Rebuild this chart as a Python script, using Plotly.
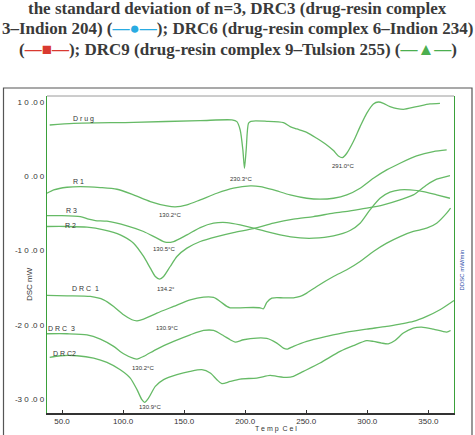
import plotly.graph_objects as go

# ---- data (temperature in °C, heat flow in mW) ----
drug_T = [39.9, 59.5, 108.6, 163.2, 189.1, 193.2, 195.9, 198.1, 199.4, 200.8, 202.7, 204.6, 217.7, 231.3, 236.8, 242.3, 250.4, 258.6, 266.8, 272.3, 276.3, 279.6, 283.2, 288.6, 294.1, 299.5, 305.0, 309.1, 313.2, 318.6, 329.5, 340.4, 351.3, 359.5]
drug_v = [6.87, 7.10, 7.23, 7.46, 7.55, 7.32, 6.20, 3.52, 1.05, 3.52, 7.10, 7.37, 7.37, 7.19, 6.65, 6.34, 5.89, 5.08, 4.19, 3.43, 2.71, 2.49, 3.07, 4.64, 6.65, 8.44, 9.70, 9.96, 9.79, 9.34, 8.98, 9.34, 9.70, 9.79]

r1_T = [37.7, 43.2, 54.1, 65.0, 81.4, 95.0, 108.6, 122.3, 135.9, 142.7, 152.3, 163.2, 176.8, 190.4, 204.1, 212.3, 223.2, 236.8, 250.4, 261.3, 272.3, 283.2, 294.1, 305.0, 315.9, 326.8, 340.4, 354.1, 365.0]
r1_v = [-2.31, -1.86, -1.50, -1.41, -1.54, -1.77, -2.53, -3.42, -4.01, -4.14, -3.87, -3.20, -2.31, -1.63, -1.32, -1.41, -1.86, -2.53, -2.98, -3.11, -2.98, -2.53, -1.63, -0.29, 0.83, 1.73, 2.71, 3.29, 3.52]

r3_T = [37.7, 48.6, 65.0, 71.8, 77.3, 86.8, 103.2, 116.8, 127.7, 134.5, 141.4, 152.3, 163.2, 174.1, 185.0, 195.9, 212.3, 228.6, 245.0, 255.9, 272.3, 285.9, 294.1, 302.2, 310.4, 318.6, 326.8, 335.0, 345.9, 356.8, 367.7]
r3_v = [-5.31, -5.31, -5.44, -5.80, -5.98, -6.07, -6.69, -7.45, -8.35, -8.89, -8.80, -7.90, -6.92, -6.34, -6.25, -6.56, -7.23, -7.90, -8.31, -8.35, -8.04, -7.32, -6.34, -4.54, -2.98, -2.17, -1.86, -1.86, -2.08, -2.53, -2.98]

r2_T = [37.7, 54.1, 70.5, 84.1, 97.7, 108.6, 116.8, 122.3, 126.4, 129.9, 133.2, 138.6, 144.1, 152.3, 163.2, 176.8, 190.4, 206.8, 223.2, 239.5, 255.9, 272.3, 285.9, 299.5, 313.2, 326.8, 337.7, 348.6, 356.8, 367.7]
r2_v = [-6.78, -6.78, -6.87, -7.23, -7.90, -9.02, -10.81, -12.38, -13.50, -13.86, -13.50, -12.16, -10.81, -9.69, -8.80, -8.13, -7.59, -7.05, -6.34, -5.80, -5.44, -4.99, -4.68, -4.32, -3.87, -3.20, -2.53, -1.19, -0.42, 0.07]

drc1_T = [37.7, 54.1, 73.2, 84.1, 92.3, 100.4, 107.3, 111.4, 116.8, 127.7, 141.4, 155.0, 165.9, 174.1, 179.5, 185.0, 187.7, 195.9, 206.8, 212.3, 215.0, 217.7, 221.8, 231.3, 239.5, 245.0, 250.4, 258.6, 272.3, 283.2, 294.1, 305.0, 315.9, 326.8, 337.7, 348.6, 356.8, 365.0, 368.2]
drc1_v = [-16.05, -16.10, -16.19, -16.64, -17.53, -18.65, -19.32, -19.46, -19.23, -18.43, -17.53, -16.64, -16.28, -16.32, -16.86, -17.53, -17.71, -17.71, -17.67, -17.71, -17.84, -16.99, -16.41, -16.37, -16.37, -16.19, -15.74, -14.84, -13.50, -12.60, -11.48, -10.14, -9.02, -8.13, -7.45, -7.01, -6.34, -4.99, -4.32]

drc3_T = [37.7, 54.1, 70.5, 81.4, 92.3, 100.4, 108.6, 111.4, 116.8, 127.7, 141.4, 155.0, 165.9, 174.1, 182.3, 187.7, 191.8, 198.6, 209.5, 217.7, 225.9, 231.3, 234.6, 239.5, 250.4, 266.8, 283.2, 299.5, 315.9, 326.8, 337.7, 348.6, 359.5, 371.0]
drc3_v = [-21.20, -21.20, -21.34, -21.92, -22.90, -23.89, -24.52, -24.61, -24.25, -23.26, -22.23, -21.34, -20.76, -20.76, -21.47, -22.01, -22.32, -22.01, -21.78, -21.83, -22.46, -23.13, -23.26, -22.90, -22.23, -21.56, -20.98, -20.58, -20.22, -19.90, -19.55, -18.87, -17.98, -16.73]

drc2_T = [39.9, 48.6, 62.3, 75.9, 86.8, 97.7, 105.9, 111.4, 115.4, 117.6, 120.9, 126.4, 133.2, 144.1, 155.0, 164.5, 171.4, 176.8, 180.9, 187.7, 195.9, 209.5, 220.4, 225.9, 234.1, 239.5, 247.7, 261.3, 277.7, 288.6, 299.5, 305.0, 311.8, 317.2, 322.7, 329.5, 337.7, 344.5, 354.1, 365.0, 368.2]
drc2_v = [-24.38, -24.16, -24.16, -24.47, -25.05, -26.04, -27.16, -28.72, -30.07, -30.43, -29.84, -28.28, -27.38, -26.71, -26.26, -26.04, -26.49, -27.38, -27.92, -27.61, -27.29, -27.16, -26.80, -26.93, -27.07, -26.93, -26.26, -25.14, -23.58, -22.81, -22.14, -22.23, -22.46, -22.55, -22.10, -21.11, -20.44, -20.31, -20.58, -20.98, -20.76]

curves = [("Drug", drug_T, drug_v), ("R 1", r1_T, r1_v), ("R 3", r3_T, r3_v), ("R 2", r2_T, r2_v),
          ("DRC 1", drc1_T, drc1_v), ("DRC 3", drc3_T, drc3_v), ("DRC2", drc2_T, drc2_v)]

# curve name labels: (text, T, v)
name_labels = [("D r u g", 67.2, 7.73), ("R 1", 63.1, -0.78), ("R 3", 57.6, -4.63), ("R 2", 56.8, -6.65),
               ("D R C  1", 69.1, -15.16), ("D R C  3", 49.5, -20.44), ("D R C2", 52.2, -23.89)]
# peak labels: (text, T, v)
peak_labels = [("230.3°C", 196.4, -0.33), ("291.0°C", 280.4, 1.37), ("130.2°C", 138.6, -5.22),
               ("130.5°C", 133.2, -9.83), ("134.2°", 135.1, -15.2), ("130.9°C", 135.9, -20.44),
               ("130.2°C", 116.0, -25.77), ("130.9°C", 122.3, -31.1)]

x_ticks = [50, 100, 150, 200, 250, 300, 350]
x_ticktext = ["50.0", "100.0", "150.0", "200.0", "250.0", "300.0", "350.0"]
y_ticks = [10, 0, -10, -20, -30]
y_ticktext = ["1 0 .0 0", "0 .0 0", "-1 0 .0 0", "-2 0 .0 0", "-3 0 .0 0"]

header_lines = [
    "the standard deviation of n=3, DRC3 (drug-resin complex",
    "3–Indion 204) (<span style='color:#29abe2'>—●—</span>); DRC6 (drug-resin complex 6–Indion 234)",
    "(<span style='color:#d93a30'>—■—</span>); DRC9 (drug-resin complex 9–Tulsion 255) (<span style='color:#4caf50'>—▲—</span>)",
]

LINE = "#66ba66"
fig = go.Figure()
for name, T, v in curves:
    fig.add_trace(go.Scatter(x=T, y=v, mode="lines", name=name,
                             line=dict(color=LINE, width=1.3, shape="spline", smoothing=0.7),
                             showlegend=False, hoverinfo="skip"))

ann = []
for txt, T, v in name_labels:
    ann.append(dict(x=T, y=v, xref="x", yref="y", text=txt, showarrow=False,
                    xanchor="center", yanchor="middle",
                    font=dict(size=7, color="#333", family="Liberation Sans")))
for txt, T, v in peak_labels:
    ann.append(dict(x=T, y=v, xref="x", yref="y", text=txt, showarrow=False,
                    xanchor="center", yanchor="middle",
                    font=dict(size=6, color="#333", family="Liberation Sans")))

W, H = 475, 435
L, R, T0, B = 47, 21, 96, 22
pw, ph = W - L - R, H - T0 - B
def px(x): return (x - L) / pw
def py(y): return (H - B - y) / ph

header_y = [9, 28.5, 49]
for line, yy in zip(header_lines, header_y):
    ann.append(dict(x=px(237.5), y=py(yy), xref="paper", yref="paper", text="<b>" + line + "</b>",
                    showarrow=False, xanchor="center", yanchor="middle",
                    font=dict(size=17, color="#3a3a3a", family="Liberation Serif")))

ann.append(dict(x=px(29), y=py(284), xref="paper", yref="paper", text="DSC mW", textangle=-90,
                xanchor="center", yanchor="middle",
                showarrow=False, font=dict(size=8, color="#333", family="Liberation Sans")))
ann.append(dict(x=px(461.5), y=py(270), xref="paper", yref="paper", text="DDSC mW/min", textangle=-90,
                xanchor="center", yanchor="middle",
                showarrow=False, font=dict(size=6, color="#2a4aa8", family="Liberation Sans")))
ann.append(dict(x=px(276), y=py(429), xref="paper", yref="paper", text="T e m p  C e l",
                xanchor="center", yanchor="middle",
                showarrow=False, font=dict(size=7, color="#333", family="Liberation Sans")))

shapes = [
    dict(type="rect", xref="paper", yref="paper", x0=px(3.5), x1=px(472), y0=py(445), y1=py(88),
         line=dict(color="#555", width=1.2), fillcolor="rgba(0,0,0,0)", layer="below"),
    dict(type="line", xref="paper", yref="paper", x0=0, x1=1, y0=1, y1=1,
         line=dict(color="#9a9a9a", width=1)),
]

fig.update_layout(
    width=W, height=H, autosize=False,
    margin=dict(l=L, r=R, t=T0, b=B, pad=0, autoexpand=False),
    paper_bgcolor="white", plot_bgcolor="white",
    annotations=ann, shapes=shapes,
    xaxis=dict(range=[37.7, 371], tickvals=x_ticks, ticktext=x_ticktext, showgrid=False, zeroline=False,
               automargin=False,
               showline=True, linecolor="#333", linewidth=1.5, ticks="inside", ticklen=3, tickcolor="#333",
               tickfont=dict(size=8, color="#333", family="Liberation Sans")),
    yaxis=dict(range=[-31.86, 10.77], tickvals=y_ticks, ticktext=y_ticktext, showgrid=False, zeroline=False,
               automargin=False,
               showline=True, linecolor="#3aa03a", linewidth=1.3, mirror=True, ticks="",
               tickfont=dict(size=8, color="#333", family="Liberation Sans")),
)

fig.write_html("out.html")
